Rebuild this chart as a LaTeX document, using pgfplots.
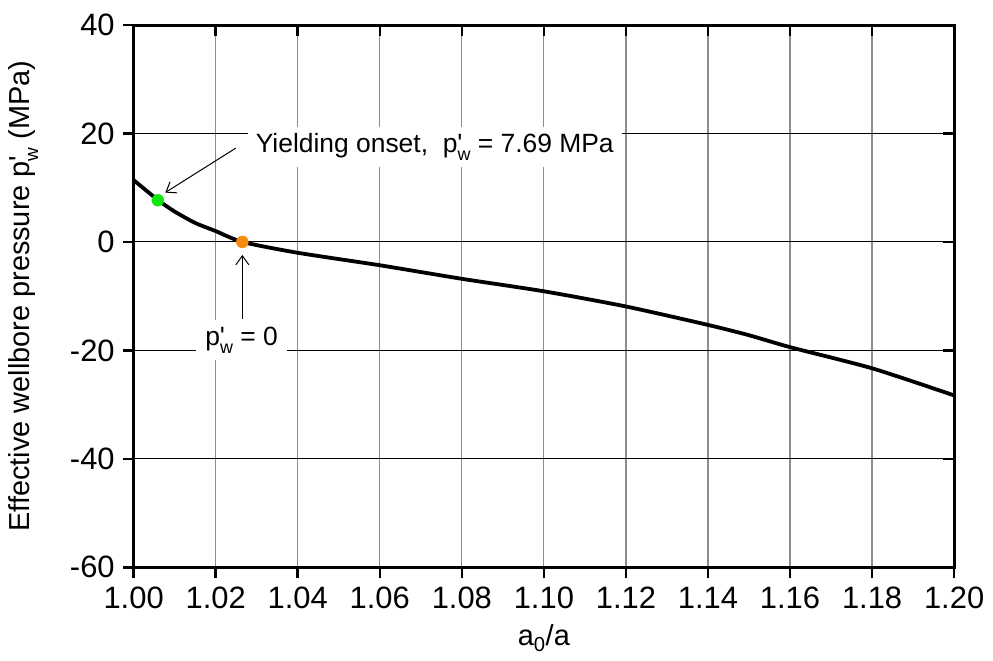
\documentclass[border=0pt]{standalone}
\usepackage{pgfplots}
\pgfplotsset{compat=1.18}
\usepackage{fontspec}
\setmainfont{Liberation Sans}
\usetikzlibrary{arrows.meta}
\definecolor{ptgreen}{HTML}{11E611}
\definecolor{ptorange}{HTML}{F58A10}
\newcommand{\pw}{p\rlap{\textquotesingle}\raisebox{-0.55ex}{\fontsize{18}{18}\selectfont w}}
\newcommand{\pwl}{p\rlap{\textquotesingle}\raisebox{-0.55ex}{\fontsize{19}{19}\selectfont w}}
\begin{document}
\fontsize{26.5}{32}\selectfont
\begin{tikzpicture}
\begin{axis}[
  scale only axis, width=820bp, height=542bp,
  xmin=1, xmax=1.2, ymin=-60, ymax=40,
  xtick={1,1.02,1.04,1.06,1.08,1.1,1.12,1.14,1.16,1.18,1.2},
  ytick={-60,-40,-20,0,20,40},
  xticklabel style={/pgf/number format/.cd, fixed, fixed zerofill, precision=2},
  /pgf/number format/assume math mode=true,
  ticklabel style={font=\fontsize{31}{36}\selectfont},
  label style={font=\fontsize{29}{34}\selectfont},
  yticklabel style={xshift=1bp},
  tick align=outside, xtick pos=left, ytick pos=left,
  major tick length=11bp,
  tick style={line width=2.5bp, black},
  axis line style={line width=3bp},
  grid=major,
  x grid style={gray!90, line width=1.2bp},
  y grid style={black, line width=0.9bp},
  xlabel={a\textsubscript{0}/a},
  ylabel={Effective wellbore pressure \pwl\ (MPa)},
  xlabel style={yshift=2bp},
  ylabel shift=14bp,
  clip=false,
]
\addplot[black, line width=3.8bp, smooth, tension=0.4] coordinates {
 (1.000, 11.4) (1.006, 7.69) (1.010, 5.6) (1.015, 3.5) (1.020, 2.0)
 (1.0265, 0.0) (1.04, -2.0) (1.06, -4.3) (1.08, -6.8) (1.10, -9.1)
 (1.12, -11.9) (1.14, -15.3) (1.15, -17.2) (1.16, -19.4) (1.18, -23.3) (1.20, -28.3)
};
\addplot[only marks, mark=*, mark size=6bp, ptgreen] coordinates {(1.0059, 7.69)};
\addplot[only marks, mark=*, mark size=6bp, ptorange] coordinates {(1.0265, 0)};
\node[fill=white, inner xsep=8bp, inner ysep=7bp] at (axis cs:1.0734,17.5)
  {Yielding onset,\ \ \pw\ = 7.69 MPa};
\node[fill=white, inner xsep=9bp, inner ysep=7bp] at (axis cs:1.0263,-18.1)
  {\pw\ = 0};
\draw[-{Straight Barb[length=9bp,width=13bp]}, line width=1bp]
  (axis cs:1.0249,17.3) -- (axis cs:1.0077,9.1);
\draw[-{Straight Barb[length=9bp,width=13bp]}, line width=1bp]
  (axis cs:1.0265,-14.3) -- (axis cs:1.0265,-2.4);
\end{axis}
\path ([yshift=25bp]current axis.north);
\begin{axis}[
  scale only axis, width=820bp, height=542bp,
  xmin=1, xmax=1.2, ymin=-60, ymax=40,
  xtick={1,1.02,1.04,1.06,1.08,1.1,1.12,1.14,1.16,1.18,1.2},
  ytick={-60,-40,-20,0,20,40},
  xticklabels={}, yticklabels={},
  tick align=inside, xtick pos=right, ytick pos=right,
  major tick length=11bp,
  tick style={line width=2.5bp, black},
  axis line style={line width=3bp},
]
\end{axis}
\end{tikzpicture}
\end{document}
